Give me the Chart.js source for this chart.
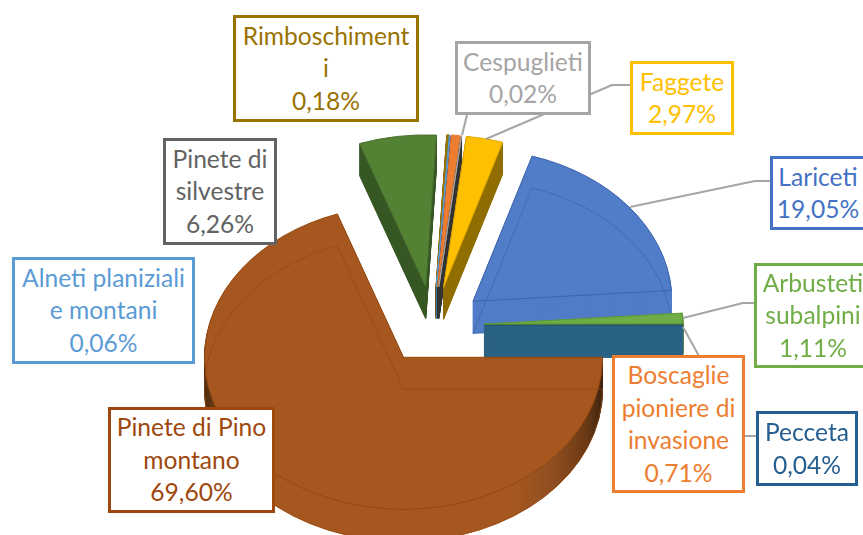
<!DOCTYPE html>
<html>
<head>
<meta charset="utf-8">
<script src="https://cdn.jsdelivr.net/npm/chart.js@4"></script>
<style>
  html, body { margin: 0; padding: 0; background: #fff; overflow: hidden; }
  #wrap { position: relative; width: 863px; height: 535px; overflow: hidden; }
  canvas { position: absolute; left: 0; top: 0; }
  .tag {
    position: absolute; box-sizing: border-box; background: #fff;
    border: 3px solid; display: flex; align-items: center; justify-content: center;
    text-align: center; font: 24.6px/32.5px Lato, sans-serif;
  }
</style>
</head>
<body>
<div id="wrap">
  <canvas id="pie" width="863" height="535"></canvas>
</div>
<script>
// drawing order is back to front, Pino montano has to stay last
const categories = ["Pinete di silvestre", "Rimboschimenti", "Alneti planiziali e montani", "Boscaglie pioniere di invasione", "Cespuglieti", "Faggete", "Lariceti", "Arbusteti subalpini", "Pecceta", "Pinete di Pino montano"];
const values = [6.26, 0.18, 0.06, 0.71, 0.02, 2.97, 19.05, 1.11, 0.04, 69.60];

const faceColors = ["#548235", "#997300", "#5B9BD5", "#ED7D31", "#A5A5A5", "#FFC000", "#517CC7", "#6FAB46", "#2A6186", "#A5571F"];
const sideColors = ["#375623", "#6B5100", "#3F74A8", "#2F2F2F", "#333333", "#8F6D00", "#517CC7", "#548235", "#2A6186", "#A5571F"];
const edgeColors = ["#4A6E30", "#997300", "#5B9BD5", "#ED7D31", "#A5A5A5", "#E0AA00", "#3D64AC", "#5E9A38", "#235273", "#93480F"];
const labelColors = ["#636363", "#997300", "#5B9BD5", "#ED7D31", "#A5A5A5", "#FFC000", "#4472C4", "#70AD47", "#255E91", "#9E480E"];

// the box is too narrow for this one word
const forcedBreaks = { "Rimboschimenti": "Rimboschiment<br>i" };

// label boxes: left, top, width, height
const labelBoxes = [
  [163, 138, 114, 107],
  [233, 15, 186, 107],
  [12, 257, 183, 107],
  [612, 355, 133, 138],
  [455, 41, 136, 74],
  [630, 61, 104, 74],
  [770, 156, 96, 74],
  [754, 263, 118, 105],
  [756, 411, 102, 75],
  [108, 407, 167, 106]
];
const leaderLines = [
  [[770, 181], [755, 181], [630, 207]],
  [[754, 303], [743, 303], [683, 318]],
  [[756, 436], [743, 436], [683, 327]],
  [[630, 85], [612, 85], [486, 139]],
  [[467, 115], [462, 135]]
];

const tilt = 0.764;
const wallHeight = 32;

function wedgePath(ctx, el) {
  const mid = (el.startAngle + el.endAngle) / 2;
  const shift = el.options.offset / 4;
  const x = el.x + Math.cos(mid) * shift;
  const y = el.y + Math.sin(mid) * shift;
  ctx.beginPath();
  ctx.moveTo(x, y);
  ctx.arc(x, y, el.outerRadius + shift, el.startAngle, el.endAngle);
  ctx.closePath();
}

function applyTilt(ctx, el, drop) {
  ctx.translate(0, el.y + drop);
  ctx.scale(1, tilt);
  ctx.translate(0, -el.y);
}

function sidePaint(ctx, index) {
  if (index !== values.length - 1) return sideColors[index];
  // the big slice darkens towards both ends of the round wall
  const grad = ctx.createLinearGradient(204, 0, 602, 0);
  grad.addColorStop(0, "#4A2A10");
  grad.addColorStop(0.05, "#8A4A1C");
  grad.addColorStop(0.12, "#A5571F");
  grad.addColorStop(0.78, "#A5571F");
  grad.addColorStop(0.88, "#8E4D20");
  grad.addColorStop(0.96, "#6B3A14");
  grad.addColorStop(1, "#3E2410");
  return grad;
}

const extrudePlugin = {
  id: "extrude",
  beforeDatasetDraw(chart, args) {
    const ctx = chart.ctx;
    ctx.lineJoin = "round";
    args.meta.data.forEach((el, i) => {
      // wall, stacked from the bottom up
      const paint = sidePaint(ctx, i);
      for (let drop = wallHeight; drop > 0; drop--) {
        ctx.save();
        applyTilt(ctx, el, drop);
        wedgePath(ctx, el);
        ctx.fillStyle = paint;
        ctx.strokeStyle = paint;
        ctx.lineWidth = 1;
        ctx.fill();
        ctx.stroke();
        ctx.restore();
      }
      // top face
      ctx.save();
      applyTilt(ctx, el, 0);
      wedgePath(ctx, el);
      ctx.restore();
      ctx.fillStyle = el.options.backgroundColor;
      ctx.strokeStyle = el.options.borderColor;
      ctx.lineWidth = el.options.borderWidth;
      ctx.fill();
      ctx.stroke();
      // the far edge shows through on the wide slices
      if (el.circumference > 1) {
        ctx.save();
        applyTilt(ctx, el, wallHeight);
        wedgePath(ctx, el);
        ctx.restore();
        ctx.strokeStyle = edgeColors[i];
        ctx.globalAlpha = 0.7;
        ctx.lineWidth = 1;
        ctx.stroke();
        ctx.globalAlpha = 1;
      }
    });
    return false;
  },
  afterDatasetsDraw(chart) {
    const ctx = chart.ctx;
    ctx.save();
    ctx.strokeStyle = "#A6A6A6";
    ctx.lineWidth = 2;
    leaderLines.forEach((line) => {
      ctx.beginPath();
      line.forEach((p, i) => (i ? ctx.lineTo(p[0], p[1]) : ctx.moveTo(p[0], p[1])));
      ctx.stroke();
    });
    ctx.restore();
  }
};

new Chart(document.getElementById("pie"), {
  type: "pie",
  data: {
    labels: categories,
    datasets: [{
      data: values,
      backgroundColor: faceColors,
      borderColor: edgeColors,
      borderWidth: 1,
      offset: 204,
      clip: false
    }]
  },
  options: {
    responsive: false,
    animation: false,
    rotation: 340.56,
    radius: 148,
    layout: { padding: { left: 3, top: 116 } },
    plugins: { legend: { display: false }, tooltip: { enabled: false } }
  },
  plugins: [extrudePlugin]
});

const wrap = document.getElementById("wrap");
categories.forEach((name, i) => {
  const box = labelBoxes[i];
  const tag = document.createElement("div");
  tag.className = "tag";
  tag.style.cssText = `left:${box[0]}px;top:${box[1]}px;width:${box[2]}px;height:${box[3]}px;color:${labelColors[i]};border-color:${labelColors[i]}`;
  const inner = document.createElement("div");
  inner.innerHTML = (forcedBreaks[name] || name) + "<br>" + values[i].toFixed(2).replace(".", ",") + "%";
  tag.appendChild(inner);
  wrap.appendChild(tag);
});
</script>
</body>
</html>
